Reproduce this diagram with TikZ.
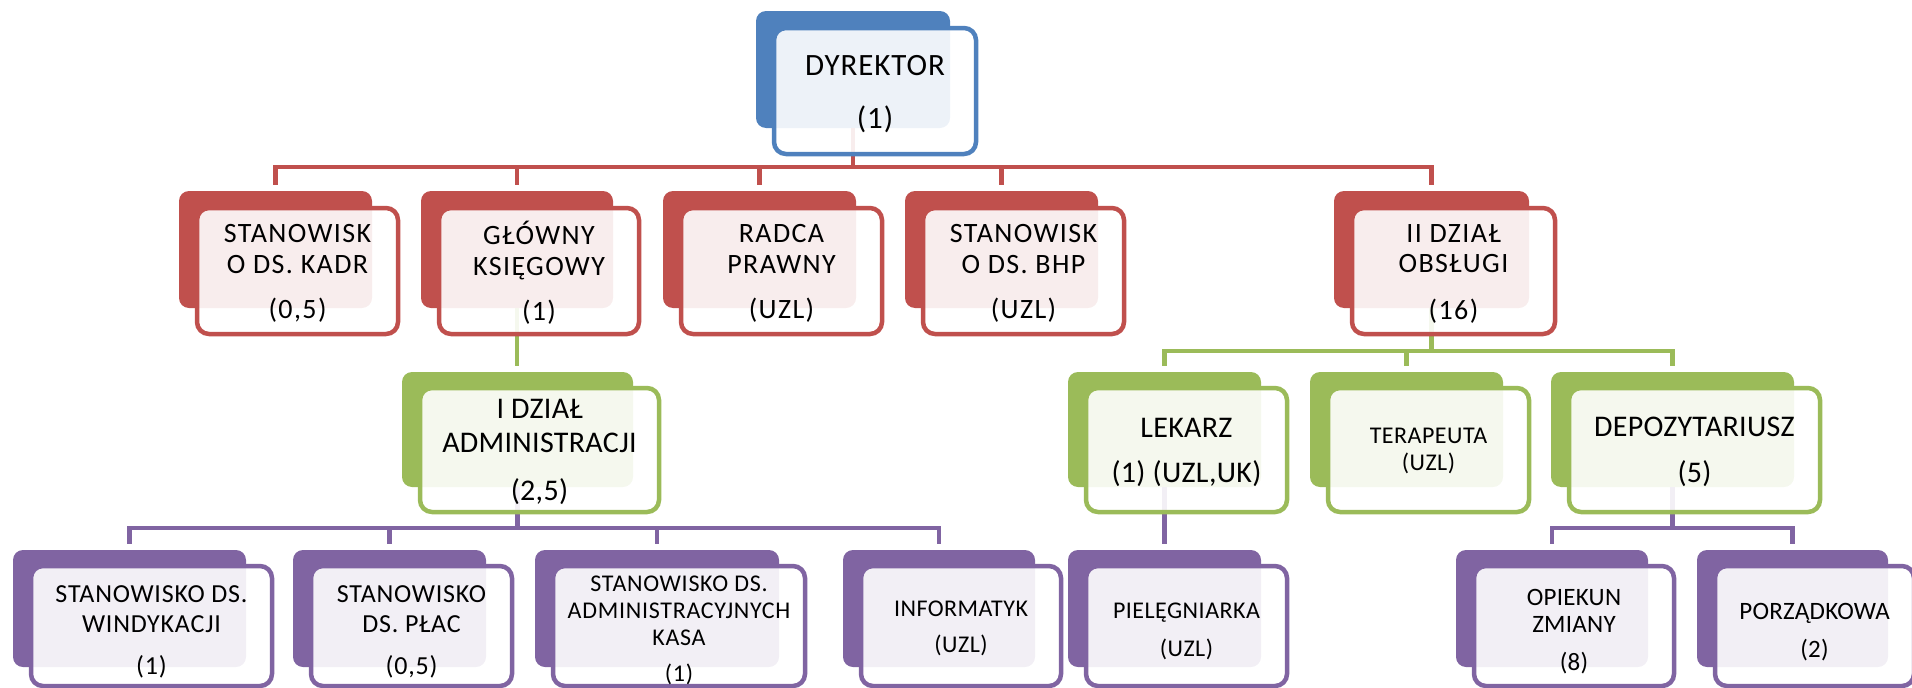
\documentclass[tikz,border=0pt]{standalone}
\usepackage{fontspec}
\setmainfont{Carlito}
\definecolor{cblue}{HTML}{4F81BD}
\definecolor{cred}{HTML}{C0504D}
\definecolor{cgreen}{HTML}{9BBB59}
\definecolor{cpurple}{HTML}{8064A2}
\tikzset{
  backbox/.style={rounded corners=10pt, inner sep=0pt, outer sep=0pt, draw=none},
  frontbox/.style={rounded corners=12pt, inner sep=0pt, outer sep=0pt, line width=4.5pt, fill=white, fill opacity=0.9, draw opacity=1},
  lbl/.style={align=center, inner sep=0pt, outer sep=0pt, text=black},
  conn/.style={line width=4.5pt},
}
% name, color, x1, y1, x2, y2
\newcommand\mkback[6]{\node[backbox, fill=#2, minimum width={(#5-#3)*1pt}, minimum height={(#6-#4)*1pt}] (#1) at ({(#3+#5)/2},{(#4+#6)/2}) {};}
\newcommand\mkfront[6]{\node[frontbox, draw=#2, minimum width={(#5-#3)*1pt}, minimum height={(#6-#4)*1pt}] (#1) at ({(#3+#5)/2},{(#4+#6)/2}) {};}
% name, x, y, size, skip, tracking, text
\newcommand\mklabel[7]{\node[lbl, font={\fontsize{#4}{#5}\selectfont\addfontfeatures{LetterSpace=#6}}] (#1) at (#2,#3) {#7};}
\begin{document}
\begin{tikzpicture}[x=1pt,y=-1pt]
\useasboundingbox (0,0) rectangle (1912,688);
\clip (0,0) rectangle (1912,688);
% back boxes
\mkback{dyrB}{cblue}{756}{11}{950}{128}
\mkback{kadrB}{cred}{179}{191}{372}{308}
\mkback{glowB}{cred}{421}{191}{613}{308}
\mkback{radcaB}{cred}{663}{191}{856}{308}
\mkback{bhpB}{cred}{905}{191}{1098}{308}
\mkback{obsB}{cred}{1334}{191}{1529}{308}
\mkback{idzB}{cgreen}{402}{372}{633}{487}
\mkback{lekB}{cgreen}{1068}{372}{1261}{487}
\mkback{terB}{cgreen}{1310}{372}{1503}{487}
\mkback{depB}{cgreen}{1551}{372}{1794}{487}
\mkback{windB}{cpurple}{13}{550}{246}{667}
\mkback{placB}{cpurple}{293}{550}{486}{667}
\mkback{admB}{cpurple}{535}{550}{779}{667}
\mkback{infB}{cpurple}{843}{550}{1035}{667}
\mkback{pielB}{cpurple}{1068}{550}{1261}{667}
\mkback{opiB}{cpurple}{1456}{550}{1648}{667}
\mkback{porB}{cpurple}{1697}{550}{1888}{667}
% connectors
\coordinate (busR) at (0,167);
\coordinate (busG) at (0,351);
\coordinate (busP) at (0,528);
\foreach \c in {kadrB,glowB,radcaB,bhpB,obsB}
  \draw[conn, draw=cred, shorten >=6pt] (dyrB.south) -- (dyrB.south |- busR) -| (\c.north);
\draw[conn, draw=cgreen, shorten >=6pt] (glowB.south) -- (glowB.south |- idzB.north);
\foreach \c in {lekB,terB,depB}
  \draw[conn, draw=cgreen, shorten >=6pt] (obsB.south) -- (obsB.south |- busG) -| (\c.north);
\foreach \c in {windB,placB,admB,infB}
  \draw[conn, draw=cpurple, shorten >=6pt] (idzB.south) -- (idzB.south |- busP) -| (\c.north);
\draw[conn, draw=cpurple, shorten >=6pt] (lekB.south) -- (lekB.south |- pielB.north);
\foreach \c in {opiB,porB}
  \draw[conn, draw=cpurple, shorten >=6pt] (depB.south) -- (depB.south |- busP) -| (\c.north);
% front boxes
\mkfront{dyrF}{cblue}{774}{28}{976}{154}
\mkfront{kadrF}{cred}{197}{208}{398}{334}
\mkfront{glowF}{cred}{439}{208}{639}{334}
\mkfront{radcaF}{cred}{681}{208}{882}{334}
\mkfront{bhpF}{cred}{923}{208}{1124}{334}
\mkfront{obsF}{cred}{1352}{208}{1555}{334}
\mkfront{idzF}{cgreen}{420}{388}{659}{512}
\mkfront{lekF}{cgreen}{1086}{388}{1287}{512}
\mkfront{terF}{cgreen}{1328}{388}{1529}{512}
\mkfront{depF}{cgreen}{1569}{388}{1820}{512}
\mkfront{windF}{cpurple}{31}{566}{272}{686}
\mkfront{placF}{cpurple}{311}{566}{512}{686}
\mkfront{admF}{cpurple}{553}{566}{805}{686}
\mkfront{infF}{cpurple}{861}{566}{1061}{686}
\mkfront{pielF}{cpurple}{1086}{566}{1287}{686}
\mkfront{opiF}{cpurple}{1474}{566}{1674}{686}
\mkfront{porF}{cpurple}{1715}{566}{1914}{686}
% labels
\mklabel{dyrT}{875}{94}{31}{31}{3}{DYREKTOR\\[22pt](1)}
\mklabel{kadrT}{297.5}{273}{28}{31}{5}{STANOWISK\\O DS. KADR\\[14pt](0,5)}
\mklabel{glowT}{539}{273}{28}{31}{5}{GŁÓWNY\\KSIĘGOWY\\[14pt](1)}
\mklabel{radcaT}{781.5}{273}{28}{31}{5}{RADCA\\PRAWNY\\[14pt](UZL)}
\mklabel{bhpT}{1023.5}{273}{28}{31}{5}{STANOWISK\\O DS. BHP\\[14pt](UZL)}
\mklabel{obsT}{1453.5}{274}{28}{30}{5}{II DZIAŁ\\OBSŁUGI\\[17pt](16)}
\mklabel{idzT}{539.5}{452}{30}{34}{1}{I DZIAŁ\\ADMINISTRACJI\\[14pt](2,5)}
\mklabel{lekT}{1186.5}{452}{30}{34}{1}{LEKARZ\\[11pt](1) (UZL,UK)}
\mklabel{terT}{1428.5}{451}{24}{27}{2}{TERAPEUTA\\(UZL)}
\mklabel{depT}{1694.5}{452}{30}{34}{1}{DEPOZYTARIUSZ\\[12pt](5)}
\mklabel{windT}{151.5}{632}{26}{30}{3}{STANOWISKO DS.\\WINDYKACJI\\[12pt](1)}
\mklabel{placT}{411.5}{632}{26}{30}{3}{STANOWISKO\\DS. PŁAC\\[12pt](0,5)}
\mklabel{admT}{679}{630}{24}{27}{3}{STANOWISKO DS.\\ADMINISTRACYJNYCH\\KASA\\[9pt](1)}
\mklabel{infT}{961}{628}{24}{27}{2}{INFORMATYK\\[9pt](UZL)}
\mklabel{pielT}{1186.5}{631}{24}{27}{2}{PIELĘGNIARKA\\[11pt](UZL)}
\mklabel{opiT}{1574}{632}{25}{27}{1}{OPIEKUN\\ZMIANY\\[11pt](8)}
\mklabel{porT}{1814.5}{632}{25}{27}{1}{PORZĄDKOWA\\[11pt](2)}
\end{tikzpicture}
\end{document}
